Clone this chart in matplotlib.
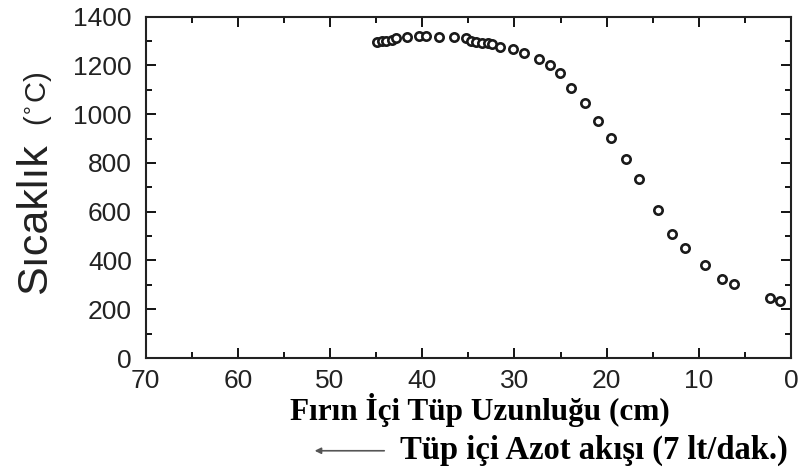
import matplotlib.pyplot as plt
from matplotlib.ticker import MultipleLocator

# furnace tube length (cm) vs temperature (C)
uzunluk = [44.9, 44.4, 43.9, 43.3, 42.8, 41.7, 40.3, 39.6, 38.2, 36.6,
           35.3, 34.7, 34.2, 33.5, 32.9, 32.4, 31.6, 30.2, 29.0, 27.3,
           26.1, 25.1, 23.9, 22.3, 20.9, 19.5, 17.9, 16.5, 14.4, 12.9,
           11.5, 9.3, 7.5, 6.2, 2.3, 1.2]
sicaklik = [1296, 1299, 1302, 1306, 1313, 1317, 1320, 1320, 1318, 1318,
            1314, 1302, 1296, 1292, 1291, 1290, 1277, 1268, 1250, 1227,
            1200, 1171, 1109, 1044, 974, 904, 817, 736, 607, 508,
            451, 380, 324, 302, 246, 235]

fig = plt.figure(figsize=(8.08, 4.72), dpi=100)
ax = fig.add_axes([0.1803, 0.2415, 0.7987, 0.7231])

ax.plot(uzunluk, sicaklik, 'o', ms=6, mfc='white', mec='#1a1a1a', mew=1.9)

ax.set_xlim(70, 0)
ax.set_ylim(0, 1400)
ax.xaxis.set_major_locator(MultipleLocator(10))
ax.xaxis.set_minor_locator(MultipleLocator(5))
ax.yaxis.set_major_locator(MultipleLocator(200))
ax.yaxis.set_minor_locator(MultipleLocator(100))
ax.tick_params(which='both', direction='in', top=True, right=True, width=1.3)
ax.tick_params(which='major', length=7, labelsize=19)
ax.tick_params(which='minor', length=4)
ax.tick_params(axis='y', pad=10)
ax.tick_params(axis='x', pad=8)
for lbl in ax.get_xticklabels() + ax.get_yticklabels():
    lbl.set_family('Liberation Sans')
    lbl.set_color('#222222')
for s in ax.spines.values():
    s.set_linewidth(1.5)
    s.set_color('#222222')

fig.text(0.043, 0.538, 'Sıcaklık', rotation=90, ha='center', va='center',
         family='Liberation Sans', fontsize=31, color='#222222')
fig.text(0.047, 0.79, '($^{\\circ}$C)', rotation=90, ha='center', va='center',
         family='Liberation Sans', fontsize=21, color='#222222')

fig.text(0.594, 0.131, 'Fırın İçi Tüp Uzunluğu (cm)', ha='center', va='center',
         family='Liberation Serif', fontweight='bold', fontsize=22.5)
fig.text(0.495, 0.045, 'Tüp içi Azot akışı (7 lt/dak.)', ha='left', va='center',
         family='Liberation Serif', fontweight='bold', fontsize=23.5)
fig.add_artist(plt.Annotation('', xy=(0.386, 0.045), xytext=(0.479, 0.045),
                              xycoords='figure fraction',
                              arrowprops=dict(arrowstyle='-|>', color='#555555',
                                              lw=1.2, mutation_scale=9)))

fig.savefig('out.png', dpi=100)
